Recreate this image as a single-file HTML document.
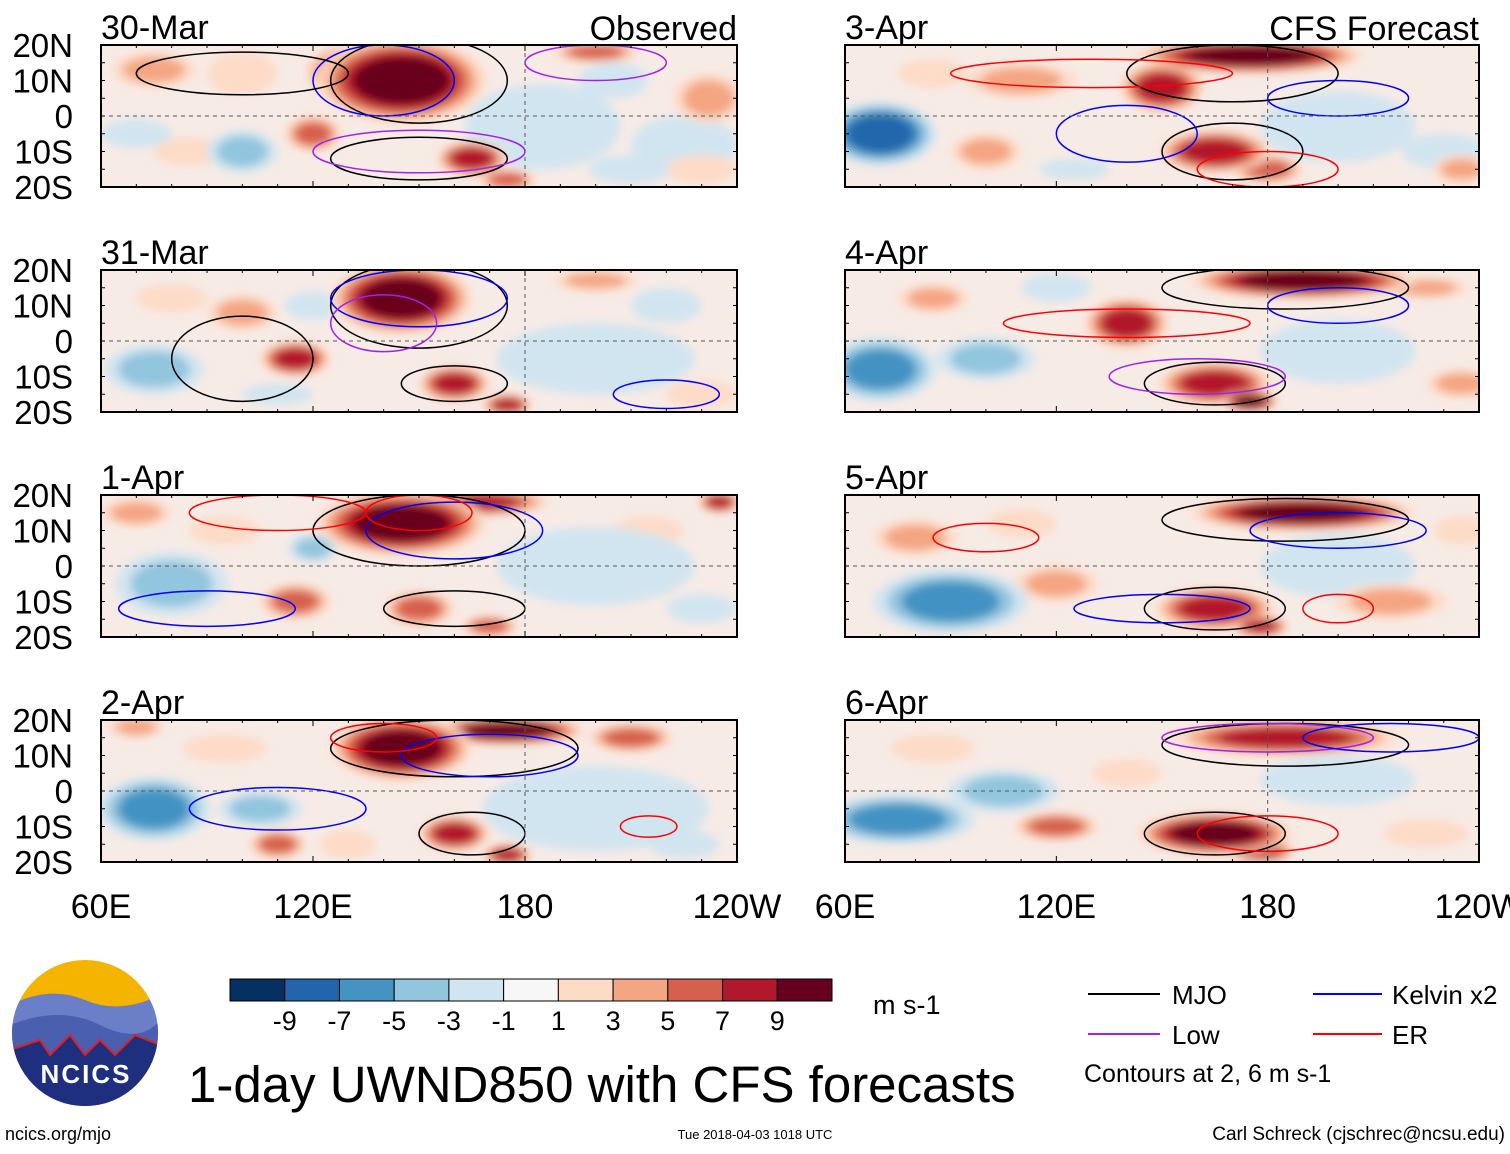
<!DOCTYPE html>
<html><head><meta charset="utf-8">
<style>
body{margin:0;background:#fff;width:1510px;height:1149px;overflow:hidden;font-family:"Liberation Sans",sans-serif}
svg text{font-family:"Liberation Sans",sans-serif}
</style></head>
<body>
<svg id="fig" width="1510" height="1149" viewBox="0 0 1510 1149">
<defs>
<filter id="blur" x="-50%" y="-50%" width="200%" height="200%"><feGaussianBlur stdDeviation="4.5"/></filter>
</defs>
<g id="panels"></g>
<g id="bottom">
  <g>
    <clipPath id="lc"><circle cx="85" cy="1033" r="73"/></clipPath>
    <g clip-path="url(#lc)">
      <rect x="10" y="958" width="150" height="150" fill="#f5b400"/>
      <path d="M10 1005 Q50 985 85 1000 T160 995 V1110 H10Z" fill="#6a7fc8"/>
      <path d="M10 1025 Q60 1005 100 1025 T160 1020 V1110 H10Z" fill="#4a5fb0"/>
      <path d="M10 1050 L40 1040 L50 1055 L70 1035 L85 1055 L100 1040 L115 1055 L135 1035 L160 1045 V1110 H10Z" fill="#1e2f80" stroke="#e02020" stroke-width="2"/>
    </g>
    <text x="86" y="1083" font-size="26" font-weight="bold" fill="#fff" text-anchor="middle" letter-spacing="2">NCICS</text>
  </g>
  <text x="5" y="1140" font-size="18">ncics.org/mjo</text>
  <text x="755" y="1139" font-size="13" text-anchor="middle">Tue 2018-04-03 1018 UTC</text>
  <text x="1505" y="1140" font-size="19" text-anchor="end">Carl Schreck (cjschrec@ncsu.edu)</text>
  <text x="188" y="1102" font-size="51">1-day UWND850 with CFS forecasts</text>
  <text x="873" y="1014" font-size="27">m s-1</text>
  <g id="cbar"></g>
  <g>
    <line x1="1088" y1="994" x2="1160" y2="994" stroke="#000" stroke-width="2"/>
    <text x="1172" y="1004" font-size="26">MJO</text>
    <line x1="1088" y1="1034" x2="1160" y2="1034" stroke="#a020f0" stroke-width="2"/>
    <text x="1172" y="1044" font-size="26">Low</text>
    <line x1="1313" y1="994" x2="1382" y2="994" stroke="#0000ff" stroke-width="2"/>
    <text x="1392" y="1004" font-size="26">Kelvin x2</text>
    <line x1="1313" y1="1034" x2="1382" y2="1034" stroke="#ff0000" stroke-width="2"/>
    <text x="1392" y="1044" font-size="26">ER</text>
    <text x="1084" y="1082" font-size="25">Contours at 2, 6 m s-1</text>
  </g>
</g>
</svg>
<script>
const levels=[-9,-7,-5,-3,-1,1,3,5,7,9];
const colors=["#053061","#2166ac","#4393c3","#92c5de","#d1e5f0","#f7f7f7","#fddbc7","#f4a582","#d6604d","#b2182b","#67001f"];
const panelTitles=["30-Mar","31-Mar","1-Apr","2-Apr","3-Apr","4-Apr","5-Apr","6-Apr"];
const latTicks=[20,10,0,-10,-20];
const latLabels=["20N","10N","0","10S","20S"];
const lonTicks=[60,120,180,240];
const lonLabels=["60E","120E","180","120W"];
// blobs: [lon, lat, halfWidthLon, halfHeightLat, value]
const blobs0=[[145,10,24,12,11],[130,12,12,8,9],[165,-12,10,5,8],[120,-5,8,5,6],[200,18,12,3,6],[232,5,10,7,5],[75,13,12,5,4],[100,12,10,6,3],[185,-3,22,12,-3],[225,-8,15,8,-3],[100,-10,10,6,-4],[205,10,10,5,-3],[175,-18,8,3,7],[85,-10,10,4,3],[230,-15,10,4,3],[70,-5,10,4,-3],[210,-15,12,4,-2]];
const blobs1=[[145,12,20,10,11],[115,-5,10,5,8],[160,-12,10,5,8],[175,-18,7,3,9],[100,8,10,5,4],[200,-5,28,10,-3],[75,-8,14,7,-4],[220,10,10,5,-3],[200,17,12,3,5],[80,12,10,4,3],[120,10,8,4,-3],[230,-15,10,4,2],[110,-15,10,3,-3]];
const blobs2=[[145,12,24,9,11],[165,18,22,4,9],[115,-10,10,5,7],[150,-12,10,5,7],[170,-17,8,3,7],[70,15,10,4,5],[235,18,6,3,8],[80,-5,16,9,-4],[200,0,28,11,-3],[120,5,7,4,-4],[95,10,10,4,3],[215,10,10,4,2],[230,-12,10,4,-2]];
const blobs3=[[145,12,20,9,11],[175,17,22,4,10],[210,15,12,4,6],[160,-12,10,5,9],[175,-18,7,3,8],[110,-15,8,4,6],[70,18,8,3,5],[75,-5,16,9,-7],[105,-5,12,5,-5],[200,-5,32,12,-3],[95,12,12,4,3],[130,-15,8,4,3],[225,-15,10,4,-2]];
const blobs4=[[175,17,32,5,10],[150,8,12,7,8],[165,-10,16,6,9],[180,-15,10,4,7],[110,10,16,5,5],[100,-10,10,5,5],[70,-5,16,9,-9],[200,-3,22,10,-3],[230,-10,12,5,-3],[85,12,10,4,3],[235,-15,8,4,4],[125,-15,10,3,-2]];
const blobs5=[[190,17,32,5,10],[140,5,12,7,8],[165,-12,16,6,9],[175,-17,8,3,10],[225,15,12,3,5],[70,-8,16,9,-7],[100,-5,14,6,-4],[200,-3,22,9,-3],[85,12,10,4,4],[235,-12,10,4,4],[120,15,10,4,-2]];
const blobs6=[[190,15,32,5,10],[165,-12,17,6,9],[178,-17,8,3,9],[120,-5,12,5,5],[215,-10,16,5,4],[90,-10,22,9,-6],[200,0,22,9,-3],[80,8,12,5,4],[110,12,10,4,3],[235,10,8,4,3]];
const blobs7=[[185,15,32,5,9],[165,-12,22,6,10],[178,-17,10,3,9],[120,-10,12,4,6],[75,-8,22,7,-7],[105,0,16,6,-5],[200,3,22,7,-3],[85,12,12,4,3],[225,-12,12,4,3],[140,5,10,4,3]];
const allBlobs=[blobs0,blobs1,blobs2,blobs3,blobs4,blobs5,blobs6,blobs7];
// contours: [lon, lat, halfWidthLon, halfHeightLat, type]
const contours0=[[150,10,25,12,"k"],[150,-12,25,6,"k"],[140,10,20,10,"b"],[150,-10,30,6,"p"],[100,12,30,6,"k"],[200,15,20,5,"p"]];
const contours1=[[150,10,25,12,"k"],[160,-12,15,5,"k"],[150,12,25,8,"b"],[140,5,15,8,"p"],[100,-5,20,12,"k"],[220,-15,15,4,"b"]];
const contours2=[[150,10,30,10,"k"],[160,-12,20,5,"k"],[160,10,25,8,"b"],[150,15,15,5,"r"],[90,-12,25,5,"b"],[110,15,25,5,"r"]];
const contours3=[[160,12,35,8,"k"],[165,-12,15,6,"k"],[170,10,25,6,"b"],[140,15,15,4,"r"],[215,-10,8,3,"r"],[110,-5,25,6,"b"]];
const contours4=[[170,12,30,8,"k"],[170,-10,20,8,"k"],[130,12,40,4,"r"],[180,-15,20,5,"r"],[200,5,20,5,"b"],[140,-5,20,8,"b"]];
const contours5=[[185,15,35,6,"k"],[165,-12,20,6,"k"],[140,5,35,4,"r"],[200,10,20,5,"b"],[160,-10,25,5,"p"]];
const contours6=[[185,13,35,6,"k"],[165,-12,20,6,"k"],[100,8,15,4,"r"],[200,10,25,5,"b"],[150,-12,25,4,"b"],[200,-12,10,4,"r"]];
const contours7=[[185,13,35,6,"k"],[165,-12,20,6,"k"],[180,15,30,4,"p"],[180,-12,20,5,"r"],[215,15,25,4,"b"]];
const allContours=[contours0,contours1,contours2,contours3,contours4,contours5,contours6,contours7];
const ctype={k:"#000",b:"#0000ff",p:"#a020f0",r:"#ff0000"};

const NS="http://www.w3.org/2000/svg";
function mk(t,a,p){const e=document.createElementNS(NS,t);for(const k in a)e.setAttribute(k,a[k]);if(p)p.appendChild(e);return e;}
function colorFor(v){let i=0;while(i<levels.length&&v>levels[i])i++;return colors[i];}
const panelsG=document.getElementById('panels');
const colX=[101,845],colW=[636,634],rowY=[45,270,495,720],ph=142;
for(let p=0;p<8;p++){
  const c=p<4?0:1,r=p%4;
  const X0=colX[c],W=colW[c],Y0=rowY[r];
  const xs=lon=>X0+(lon-60)/180*W;
  const ys=lat=>Y0+(20-lat)/40*ph;
  const g=mk('g',{},panelsG);
  
  
  const cp=mk('clipPath',{id:'cp'+p},g);mk('rect',{x:X0,y:Y0,width:W,height:ph},cp);
  const inner=mk('g',{'clip-path':'url(#cp'+p+')'},g);
  mk('rect',{x:X0,y:Y0,width:W,height:ph,fill:'#f7ebe6'},inner);
  const hb=mk('g',{filter:'url(#blur)'},inner);
  const list=allBlobs[p].slice().sort((a,b)=>Math.abs(a[4])-Math.abs(b[4]));
  list.forEach(b=>{
    const sg=Math.sign(b[4]);const steps=[];
    for(let v=sg*2;Math.abs(v)<=Math.abs(b[4])+0.5;v+=2*sg)steps.push(v);
    steps.forEach((v,i)=>{
      const f=1-i/steps.length*0.55;
      const e=mk('ellipse',{cx:xs(b[0]),cy:ys(b[1]),rx:b[2]/180*W*f,ry:b[3]/40*ph*f,fill:colorFor(v)},hb);
      
      
    });
  });
  allContours[p].forEach(k=>{
    const e=mk('ellipse',{cx:xs(k[0]),cy:ys(k[1]),rx:k[2]/180*W,ry:k[3]/40*ph,fill:'none',stroke:ctype[k[4]],'stroke-width':1.5},inner);
    
    
  });
  mk('line',{x1:X0,y1:ys(0),x2:X0+W,y2:ys(0),stroke:'#555','stroke-dasharray':'4 4','stroke-width':1},inner);
  mk('line',{x1:xs(180),y1:Y0,x2:xs(180),y2:Y0+ph,stroke:'#555','stroke-dasharray':'4 4','stroke-width':1},inner);
  mk('rect',{x:X0,y:Y0,width:W,height:ph,fill:'none',stroke:'#000','stroke-width':2},g);
  for(let lon=60;lon<=240;lon+=10){const L=lon%60==0?6:3;
    mk('line',{x1:xs(lon),y1:Y0,x2:xs(lon),y2:Y0+L,stroke:'#000'},g);
    mk('line',{x1:xs(lon),y1:Y0+ph,x2:xs(lon),y2:Y0+ph-L,stroke:'#000'},g);}
  for(let lat=-20;lat<=20;lat+=5){mk('line',{x1:X0,y1:ys(lat),x2:X0+4,y2:ys(lat),stroke:'#000'},g);mk('line',{x1:X0+W,y1:ys(lat),x2:X0+W-4,y2:ys(lat),stroke:'#000'},g);}
  const t=mk('text',{x:X0,y:Y0-6,'font-size':34},g);t.textContent=panelTitles[p];
  
  if(r==0){const s=mk('text',{x:X0+W,y:Y0-5,'font-size':34,'text-anchor':'end'},g);s.textContent=c==0?'Observed':'CFS Forecast';
    }
  if(c==0){latTicks.forEach((lat,i)=>{const tl=mk('text',{x:73,y:ys(lat)+12,'font-size':33,'text-anchor':'end'},g);tl.textContent=latLabels[i];
    });}
  if(r==3){lonTicks.forEach((lon,i)=>{const tl=mk('text',{x:xs(lon),y:918,'font-size':34,'text-anchor':'middle'},g);tl.textContent=lonLabels[i];
    });}
}
const cb=document.getElementById('cbar');const cbX=230,cbW=602,bw=cbW/colors.length;
colors.forEach((col,i)=>{const r=mk('rect',{x:cbX+i*bw,y:979,width:bw,height:22,fill:col,stroke:'#000','stroke-width':1},cb);
  });
levels.forEach((v,i)=>{const t=mk('text',{x:cbX+(i+1)*bw,y:1030,'font-size':27,'text-anchor':'middle'},cb);t.textContent=v;
  });
</script>
</body></html>
